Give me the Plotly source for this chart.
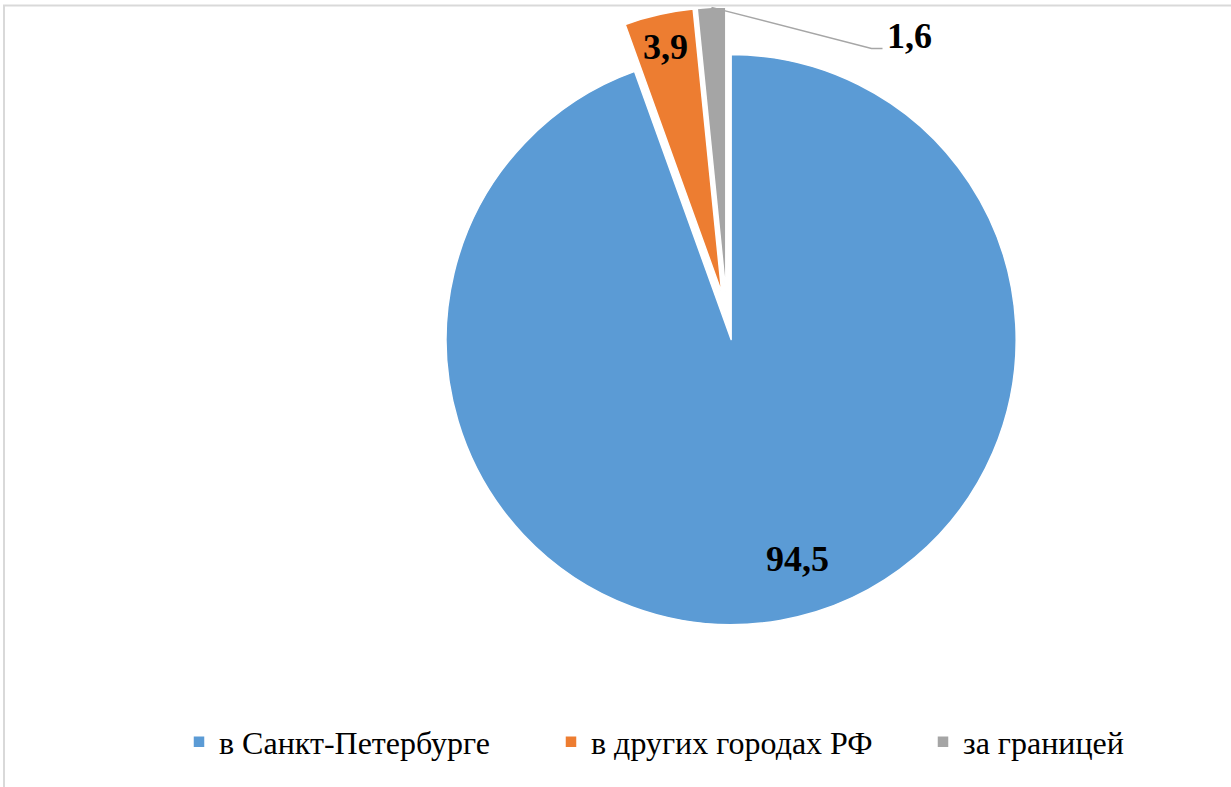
import math
import plotly.graph_objects as go

# ---- data ----
categories = ["в Санкт-Петербурге", "в других городах РФ", "за границей"]
values = [94.5, 3.9, 1.6]
colors = ["#5B9BD5", "#ED7D31", "#A5A5A5"]

# ---- layout geometry ----
W, H = 1231, 787
M_T, M_B, M_L, M_R = 7, 162, 0, 0
PULL = 0.084
DOM_X = [0.2906, 0.8906]
plot_w = W - M_L - M_R
plot_h = H - M_T - M_B

# pie geometry as plotly computes it
cx = M_L + plot_w * (DOM_X[0] + DOM_X[1]) / 2
cy = M_T + plot_h / 2
R = min(plot_w * (DOM_X[1] - DOM_X[0]), plot_h) / (2 + 2 * PULL)


def px2paper(x, y):
    return (x - M_L) / plot_w, 1 - (y - M_T) / plot_h


fmt = [f"{v:.1f}".replace(".", ",") for v in values]
total = sum(values)
mids = []
acc = 0
for v in values:
    a0 = acc / total * 2 * math.pi
    acc += v
    a1 = acc / total * 2 * math.pi
    mids.append((a0 + a1) / 2)


def apex(i):
    m = mids[i]
    return cx + PULL * R * math.sin(m), cy - PULL * R * math.cos(m)


fig = go.Figure()
fig.add_trace(go.Pie(
    labels=categories,
    values=values,
    sort=False,
    direction="clockwise",
    rotation=0,
    pull=[PULL] * len(values),
    marker=dict(colors=colors, line=dict(color="white", width=1.5)),
    textinfo="none",
    hoverinfo="label+value",
    domain=dict(x=DOM_X, y=[0, 1]),
))

label_font = dict(family="Liberation Serif", size=36, color="#000000", weight="bold")

# inside labels (blue, orange)
inside = {0: (0.78, 28, 0), 1: (0.885, 0, 0)}
annotations = []
for i, (f, xs, ys) in inside.items():
    ax_, ay_ = apex(i)
    m = mids[i]
    px = ax_ + f * R * math.sin(m)
    py = ay_ - f * R * math.cos(m)
    xp, yp = px2paper(px, py)
    annotations.append(dict(x=xp, y=yp, xref="paper", yref="paper", text=fmt[i],
                            showarrow=False, font=label_font, xanchor="center",
                            yanchor="middle", xshift=xs, yshift=ys))

# outside label with leader line (gray)
g = 2
gx, gy = apex(g)
sx = gx + R * math.sin(mids[g])
sy = gy - R * math.cos(mids[g])
ex, ey = sx + 160, sy + 41
fx, fy = ex + 11, ey
p0 = px2paper(sx, sy)
p1 = px2paper(ex, ey)
p2 = px2paper(fx, fy)
shapes = [
    dict(type="path", xref="paper", yref="paper",
         path=f"M {p0[0]},{p0[1]} L {p1[0]},{p1[1]} L {p2[0]},{p2[1]}",
         line=dict(color="#A6A6A6", width=1.5)),
]
tp = px2paper(fx + 2, fy - 12)
annotations.append(dict(x=tp[0], y=tp[1], xref="paper", yref="paper", text=fmt[g],
                        showarrow=False, font=label_font, xanchor="left", yanchor="middle"))

# chart border
b0 = px2paper(4, 5.5)
b1 = px2paper(1300, 900)
shapes.append(dict(type="rect", xref="paper", yref="paper", x0=b0[0], y0=b0[1], x1=b1[0], y1=b1[1],
                   line=dict(color="#D9D9D9", width=2), fillcolor="rgba(0,0,0,0)"))

lx, ly = px2paper(179, 742)
fig.update_layout(
    width=W, height=H,
    margin=dict(t=M_T, b=M_B, l=M_L, r=M_R, autoexpand=False),
    paper_bgcolor="white",
    plot_bgcolor="white",
    font=dict(family="Liberation Serif"),
    showlegend=True,
    legend=dict(orientation="h", x=lx, y=ly, xanchor="left", yanchor="middle",
                font=dict(family="Liberation Serif", size=32, color="#000000"),
                entrywidth=327, entrywidthmode="pixels", traceorder="normal"),
    annotations=annotations,
    shapes=shapes,
)

fig.write_html("out.html", config={"displayModeBar": False},
               post_script="document.body.style.margin='0px';")
